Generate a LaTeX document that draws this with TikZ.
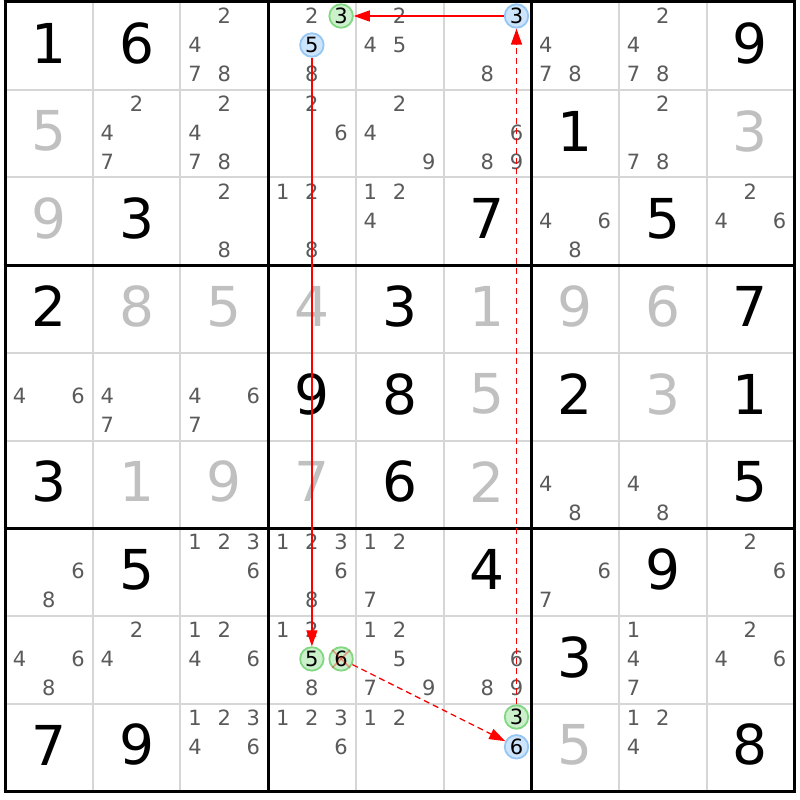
\documentclass[tikz,border=0pt]{standalone}
\usepackage{fontspec}
\setmainfont{DejaVu Sans}
\usetikzlibrary{arrows.meta}
\definecolor{candgray}{HTML}{5A5A5A}
\definecolor{solvedgray}{HTML}{C0C0C0}
\definecolor{gridgray}{HTML}{D6D6D6}
\definecolor{gfill}{HTML}{CCF0CC}
\definecolor{gline}{HTML}{82D882}
\definecolor{bfill}{HTML}{CCE4FC}
\definecolor{bline}{HTML}{96C6F2}
\definecolor{linkred}{HTML}{FF0000}
\begin{document}
\begin{tikzpicture}[x=1pt,y=-1pt,
  given/.style={font=\fontsize{55}{55}\selectfont, inner sep=0pt, text=black},
  solved/.style={given, text=solvedgray},
  cand/.style={font=\fontsize{21}{21}\selectfont, inner sep=0pt, text=candgray},
  gcirc/.style={circle, draw=gline, fill=gfill, line width=1.8pt, minimum size=23.5pt, inner sep=0pt, font=\fontsize{21}{21}\selectfont, text=black},
  bcirc/.style={gcirc, draw=bline, fill=bfill},
  link/.style={draw=linkred, line width=1.3pt, -{Triangle[length=16pt,width=11pt]}},
  weaklink/.style={link, dash pattern=on 6pt off 4pt},
  minorline/.style={draw=gridgray, line width=2pt},
  majorline/.style={draw=black, line width=3pt},
  crossmark/.style={draw=linkred, opacity=0.35, line width=1.5pt}]
\useasboundingbox (0,0) rectangle (800,800);
\fill[white] (0,0) rectangle (800,800);
% minor grid
\foreach \i in {1,2,4,5,7,8} {
  \draw[minorline] ({5+\i*87.7},2) -- ({5+\i*87.7},791.3);
  \draw[minorline] (5,{2+\i*87.7}) -- (794.3,{2+\i*87.7});
}
% major grid
\foreach \i in {0,3,6,9} {
  \draw[majorline] ({5+\i*87.7},0.5) -- ({5+\i*87.7},792.8);
  \draw[majorline] (3.5,{2+\i*87.7}) -- (795.8,{2+\i*87.7});
}
% givens
\foreach \r/\c/\d in {1/1/1,1/2/6,1/9/9,2/7/1,3/2/3,3/6/7,3/8/5,4/1/2,4/5/3,4/9/7,
  5/4/9,5/5/8,5/7/2,5/9/1,6/1/3,6/5/6,6/9/5,7/2/5,7/6/4,7/8/9,8/7/3,9/1/7,9/2/9,9/9/8}
  \node[given] (g-\r-\c) at ({5+(\c-0.5)*87.7},{2+(\r-0.5)*87.7-2.5}) {\d};
% solved
\foreach \r/\c/\d in {2/1/5,2/9/3,3/1/9,4/2/8,4/3/5,4/4/4,4/6/1,4/7/9,4/8/6,5/6/5,5/8/3,
  6/2/1,6/3/9,6/4/7,6/6/2,9/7/5}
  \node[solved] (s-\r-\c) at ({5+(\c-0.5)*87.7},{2+(\r-0.5)*87.7-2.5}) {\d};
% candidates
\foreach \r/\c/\L in {1/3/{2,4,7,8},1/4/{2,8},1/5/{2,4,5},1/6/{8},1/7/{4,7,8},1/8/{2,4,7,8},
  2/2/{2,4,7},2/3/{2,4,7,8},2/4/{2,6},2/5/{2,4,9},2/6/{6,8,9},2/8/{2,7,8},
  3/3/{2,8},3/4/{1,2,8},3/5/{1,2,4},3/7/{4,6,8},3/9/{2,4,6},
  5/1/{4,6},5/2/{4,7},5/3/{4,6,7},6/7/{4,8},6/8/{4,8},
  7/1/{6,8},7/3/{1,2,3,6},7/4/{1,2,3,6,8},7/5/{1,2,7},7/7/{6,7},7/9/{2,6},
  8/1/{4,6,8},8/2/{2,4},8/3/{1,2,4,6},8/4/{1,2,8},8/5/{1,2,5,7,9},8/6/{6,8,9},8/8/{1,4,7},8/9/{2,4,6},
  9/3/{1,2,3,4,6},9/4/{1,2,3,6},9/5/{1,2},9/8/{1,2,4}} {
  \foreach \d in \L {
    \pgfmathtruncatemacro{\kx}{mod(\d-1,3)}
    \pgfmathtruncatemacro{\jy}{(\d-1)/3}
    \node[cand] (c-\r-\c-\d) at ({5+(\c-1)*87.7+14.6+29.2*\kx},{2+(\r-1)*87.7+14+29*\jy}) {\d};
  }
}
% highlighted candidates
\node[gcirc] (g143) at (341.1,16) {3};
\node[bcirc] (b145) at (311.9,45) {5};
\node[bcirc] (b163) at (516.5,16) {3};
\node[gcirc] (g845) at (311.9,658.9) {5};
\node[gcirc] (g846) at (341.1,658.9) {6};
\node[gcirc] (g963) at (516.5,717.0) {3};
\node[bcirc] (b966) at (516.5,746.8) {6};
\draw[crossmark] (g846.north west) -- (g846.south east);
\draw[crossmark] (g846.north east) -- (g846.south west);
% links
\draw[link] (b163) -- (g143);
\draw[link] (b145) -- (g845);
\draw[weaklink] (g846) -- (b966);
\draw[weaklink] (g963) -- (b163);
\end{tikzpicture}
\end{document}
